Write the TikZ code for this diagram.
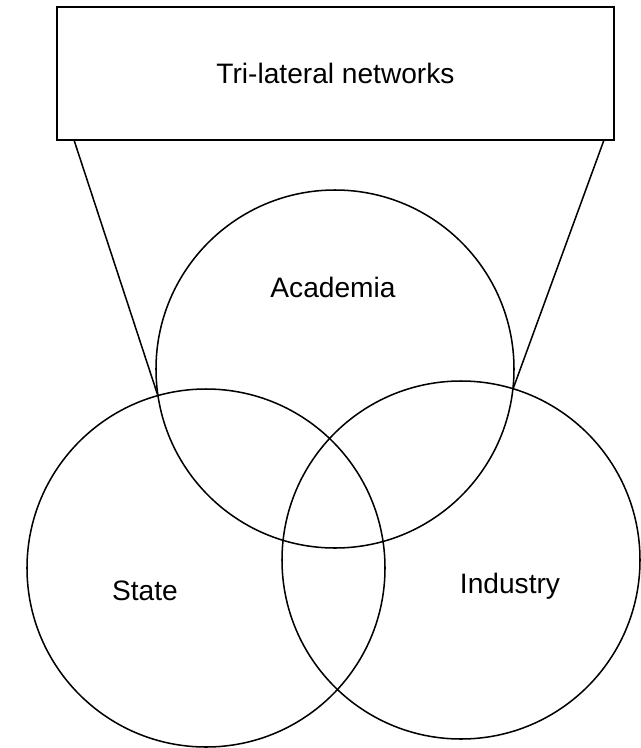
\documentclass[tikz,border=0pt]{standalone}
\usepackage{fontspec}
\setmainfont{Liberation Sans}

\tikzset{
    venn/.style={line width=1.3pt},
    label text/.style={font=\fontsize{24}{28}\selectfont, inner sep=0pt, anchor=base}
}

\begin{document}
\begin{tikzpicture}[x=0.03cm, y=-0.03cm]
    \useasboundingbox (0,0) rectangle (641,748);

    % Define some coordinates
    \coordinate (acad) at (335,369);
    \coordinate (state) at (206,568);
    \coordinate (ind) at (461,560);
    \coordinate (lt) at (74,140);
    \coordinate (rt) at (604,140);
    \coordinate (lx) at (158,396);
    \coordinate (rx) at (513,389);

    % Draw the network box
    \node[draw, line width=1.3pt, minimum width=16.71cm, minimum height=3.99cm,
          font=\fontsize{24}{28}\selectfont] (net) at (335.5,73.5) {Tri-lateral networks};

    % Draw the three circles
    \draw[venn] (acad) circle (179);
    \draw[venn] (state) circle (179);
    \draw[venn] (ind) circle (179);

    % Draw the lines from the box
    \draw[venn] (lt) -- (lx);
    \draw[venn] (rt) -- (rx);

    % Label the circles
    \node[label text] (acadlabel) at (333,297) {Academia};
    \node[label text] (statelabel) at (145,600) {State};
    \node[label text] (indlabel) at (510,593) {Industry};
\end{tikzpicture}
\end{document}
